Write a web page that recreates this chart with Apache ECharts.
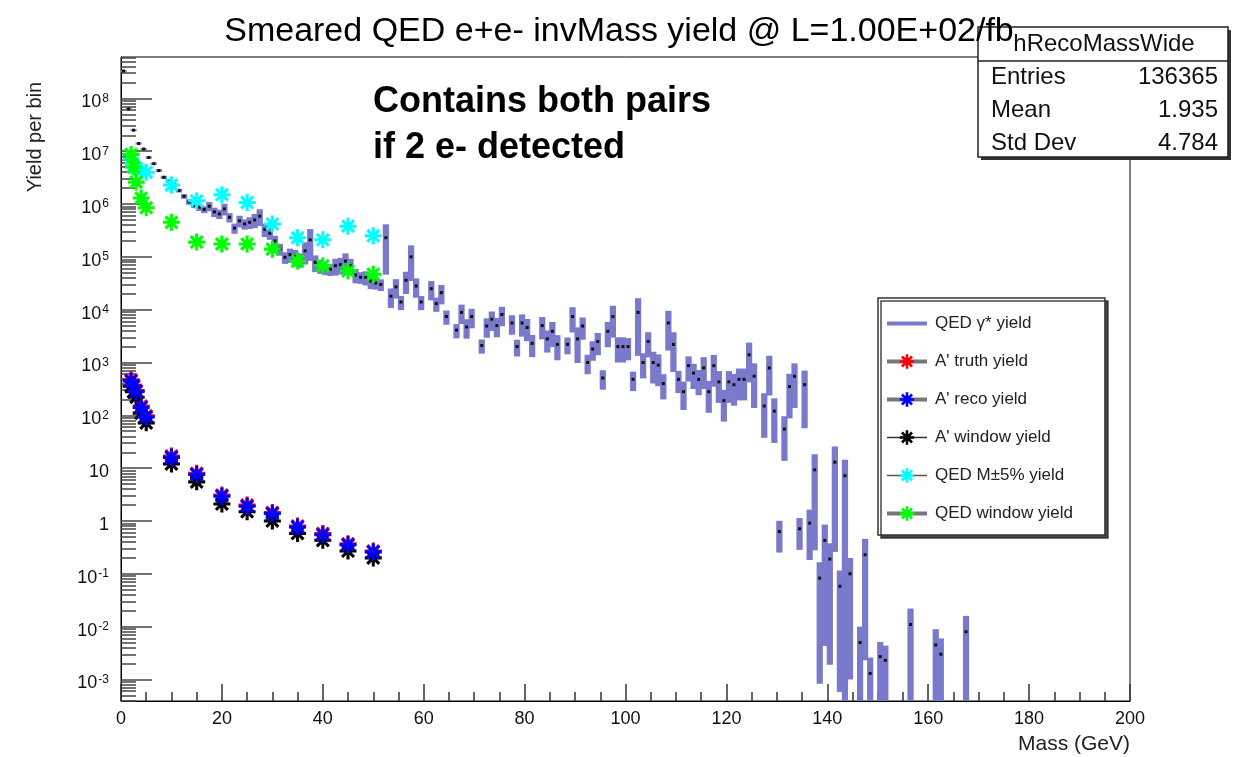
<!DOCTYPE html>
<html>
<head>
<meta charset="utf-8">
<script src="https://cdn.jsdelivr.net/npm/echarts@6/dist/echarts.min.js"></script>
<style>
  html, body { margin: 0; padding: 0; background: #fff; }
  #chart { width: 1244px; height: 757px; }
</style>
</head>
<body>
<div id="chart"></div>
<script>
// ---------------- data ----------------
// QED gamma* yield per 1 GeV bin of reconstructed mass, first bin starts at 0 GeV
const qedBinWidth = 1;
const qedYield = [
  3.3e8, 6.3e7, 2.5e7, 1.4e7, 1.1e7, 7.6e6, 5.8e6, 4.3e6, 3.2e6, 2.7e6,
  2.3e6, 1.8e6, 1.4e6, 1.1e6, 9.5e5, 8.7e5, 7.9e5, 9.1e5, 7.1e5, 6.5e5,
  8.1e5, 5.6e5, 3.5e5, 4.8e5, 4.2e5, 4.5e5, 5.0e5, 5.9e5, 3.3e5, 2.8e5,
  2.0e5, 1.4e5, 9.8e4, 1.1e5, 1.0e5, 8.9e4, 1.3e5, 2.1e5, 7.9e4, 6.8e4,
  6.0e4, 5.8e4, 6.8e4, 7.1e4, 8.3e4, 6.8e4, 4.5e4, 4.1e4, 4.1e4, 3.5e4,
  3.2e4, 3.0e4, 2.3e5, 1.8e4, 2.7e4, 1.4e4, 3.6e4, 1.0e5, 2.8e4, 1.4e4,
  null, 2.5e4, 1.3e4, 2.1e4, 7.4e3, null, 4.1e3, 8.9e3, 4.7e3, 7.4e3,
  null, 2.1e3, 4.9e3, 6.6e3, 5.0e3, 8.1e3, null, 5.6e3, 2.0e3, 5.6e3,
  4.6e3, 2.3e3, null, 5.0e3, 2.8e3, 3.9e3, 2.2e3, null, 2.2e3, 7.4e3,
  2.8e3, 4.9e3, 1.0e3, 1.8e3, 2.5e3, 5.1e2, 3.9e3, 7.4e3, 2.0e3, 2.0e3,
  2.0e3, 4.8e2, 8.9e3, 1.0e3, 2.5e3, 1.0e3, 8.9e2, 4.0e2, 5.6e3, 2.2e3,
  4.8e2, 2.8e2, 8.7e2, 6.3e2, 4.8e2, 7.9e2, 2.8e2, 8.7e2, 4.3e2, 1.9e2,
  4.3e2, 3.8e2, 4.8e2, 4.8e2, 1.4e3, 5.5e2, null, 1.5e2, 7.9e2, 1.2e2,
  0.63, 55, 3.5e2, 5.5e2, 0.71, 3.8e2, 0.91, 9.3, 0.083, 0.43,
  0.19, 13, 0.058, 7.2, 0.1, null, 0.005, 0.23, 0.0013, null,
  0.0027, 0.0023, null, null, null, null, 0.011, null, null, null,
  null, 0.0045, 0.003, null, null, null, null, 0.008, null, null
];
// relative statistical uncertainty of each bin
const qedRelErr = [
  0.02, 0.03, 0.03, 0.04, 0.04, 0.05, 0.05, 0.06, 0.07, 0.07,
  0.08, 0.08, 0.10, 0.12, 0.12, 0.15, 0.15, 0.20, 0.20, 0.20,
  0.25, 0.20, 0.22, 0.25, 0.22, 0.25, 0.30, 0.35, 0.28, 0.25,
  0.25, 0.25, 0.25, 0.30, 0.35, 0.30, 0.45, 0.60, 0.35, 0.30,
  0.25, 0.25, 0.35, 0.35, 0.40, 0.35, 0.30, 0.25, 0.30, 0.30,
  0.25, 0.25, 0.80, 0.40, 0.40, 0.30, 0.45, 0.65, 0.40, 0.30,
  null, 0.40, 0.30, 0.40, 0.30, null, 0.30, 0.40, 0.40, 0.40,
  null, 0.30, 0.40, 0.40, 0.40, 0.40, null, 0.40, 0.35, 0.45,
  0.45, 0.45, null, 0.45, 0.45, 0.50, 0.50, null, 0.35, 0.50,
  0.65, 0.45, 0.40, 0.40, 0.45, 0.40, 0.50, 0.60, 0.50, 0.50,
  0.45, 0.40, 0.85, 0.50, 0.50, 0.60, 0.60, 0.50, 0.70, 0.70,
  0.45, 0.55, 0.50, 0.50, 0.50, 0.60, 0.60, 0.60, 0.60, 0.60,
  0.60, 0.60, 0.60, 0.60, 0.70, 0.75, null, 0.75, 0.70, 0.75,
  0.60, 0.75, 0.75, 0.75, 0.60, 0.85, 0.80, 0.97, 0.99, 0.99,
  0.99, 0.98, 0.99, 1.00, 0.99, null, 1.00, 0.99, 1.00, null,
  0.90, 0.90, null, null, null, null, 1.00, null, null, null,
  null, 0.99, 0.99, null, null, null, null, 1.00, null, null
];

// A' signal mass points (GeV)
const apMass    = [2, 2.5, 3, 4, 5, 10, 15, 20, 25, 30, 35, 40, 45, 50];
const apTruth   = [470, 370, 295, 150, 98, 17, 8.0, 3.1, 2.0, 1.45, 0.80, 0.58, 0.37, 0.27];
const apReco    = [447, 355, 282, 141, 93, 16, 7.6, 2.95, 1.9, 1.38, 0.77, 0.55, 0.355, 0.26];
const apWindow  = [355, 280, 220, 110, 72, 12, 5.5, 2.1, 1.5, 1.0, 0.58, 0.43, 0.27, 0.20];
const qedMass5  = [7.1e6, 5.2e6, 4.8e6, 4.3e6, 4.0e6, 2.3e6, 1.15e6, 1.5e6, 1.07e6, 4.2e5, 2.3e5, 2.1e5, 3.8e5, 2.5e5];
const qedWindow = [8.7e6, 5.0e6, 2.6e6, 1.3e6, 8.5e5, 4.5e5, 1.9e5, 1.75e5, 1.75e5, 1.4e5, 8.3e4, 6.8e4, 5.4e4, 4.7e4];

// axis ticks
const xMajorStep = 20;
const yDecades = [-3, -2, -1, 0, 1, 2, 3, 4, 5, 6, 7, 8];
const yMinorFactors = [2, 3, 4, 5, 6, 7, 8, 9];

// statistics box
const statsTitle = 'hRecoMassWide';
const statsLabels = ['Entries', 'Mean', 'Std Dev'];
const statsValues = ['136365', '1.935', '4.784'];

// ---------------- style ----------------
const FONT = '"Liberation Sans", Arial, Helvetica, sans-serif';
const QED_FILL = '#7a7acc';
const Y_MIN = 3.91e-4;
const Y_MAX = 6.07e8;
const X_MIN = 0, X_MAX = 200;
const STAR = 'path://M41,0L59,0L59,100L41,100Z M0,41L100,41L100,59L0,59Z ' +
             'M8.6,21.4L21.4,8.6L91.4,78.6L78.6,91.4Z M78.6,8.6L91.4,21.4L21.4,91.4L8.6,78.6Z';

const majorY = yDecades.map(n => Math.pow(10, n));
const minorY = [];
yDecades.concat([-4]).forEach(n => yMinorFactors.forEach(f => {
  const v = f * Math.pow(10, n);
  if (v > Y_MIN && v < Y_MAX) minorY.push(v);
}));

const histData = [];
qedYield.forEach((v, i) => {
  if (v == null) return;
  const lo = i * qedBinWidth;
  histData.push([lo, lo + qedBinWidth, v, v * qedRelErr[i]]);
});

// error box per bin plus a small marker at the bin content
function renderHist(params, api) {
  const lo = api.value(0), hi = api.value(1), v = api.value(2), err = api.value(3);
  const top = Math.min(v + err, Y_MAX);
  const bot = Math.max(v - err, Y_MIN);
  if (top <= Y_MIN) return null;
  const pTop = api.coord([lo, top]);
  const pBot = api.coord([hi, bot]);
  const h = pBot[1] - pTop[1];
  const boxH = Math.max(h, 2);
  const children = [{
    type: 'rect',
    shape: { x: pTop[0] - 0.6, y: pTop[1] - (boxH - h) / 2, width: pBot[0] - pTop[0] + 1.2, height: boxH },
    style: { fill: QED_FILL }
  }];
  if (v > Y_MIN) {
    const c = api.coord([(lo + hi) / 2, v]);
    children.push({
      type: 'rect',
      shape: { x: c[0] - 1.5, y: c[1] - 1.5, width: 3, height: 3 },
      style: { fill: '#111' }
    });
  }
  return { type: 'group', children };
}

function starSeries(name, values, color, z) {
  return {
    type: 'line',
    name,
    data: apMass.map((m, i) => [m, values[i]]),
    symbol: STAR,
    symbolSize: 17,
    showSymbol: true,
    showAllSymbol: true,
    lineStyle: { width: 0 },
    itemStyle: { color },
    emphasis: { disabled: true },
    z
  };
}

function yLabel(v) {
  const n = Math.round(Math.log10(v));
  if (n === 0) return '{b|1}';
  if (n === 1) return '{b|10}';
  return '{b|10}{s|' + n + '}';
}

const chart = echarts.init(document.getElementById('chart'), null, { renderer: 'canvas' });

chart.setOption({
  animation: false,
  backgroundColor: '#fff',
  title: {
    text: 'Smeared QED e+e- invMass yield @ L=1.00E+02/fb',
    left: 614,
    top: 10,
    textAlign: 'center',
    textStyle: { fontFamily: FONT, fontSize: 34, fontWeight: 'normal', color: '#000' },
    z: 20
  },
  grid: {
    left: 121, right: 114, top: 57, bottom: 56,
    show: true, borderColor: '#000', borderWidth: 1, backgroundColor: 'transparent'
  },
  xAxis: {
    type: 'value',
    min: X_MIN, max: X_MAX, interval: xMajorStep,
    axisLine: { show: true, onZero: false, lineStyle: { color: '#000', width: 1 } },
    axisTick: { show: true, inside: true, length: 17, lineStyle: { color: '#333', width: 1.5 } },
    minorTick: { show: true, splitNumber: 4, length: 9, lineStyle: { color: '#333', width: 1.5 } },
    splitLine: { show: false },
    axisLabel: { fontFamily: FONT, fontSize: 18, color: '#111', margin: 9 }
  },
  yAxis: [{
    type: 'log', logBase: 10,
    min: Y_MIN, max: Y_MAX,
    position: 'left',
    axisLine: { show: true, lineStyle: { color: '#000', width: 1 } },
    axisTick: { show: true, inside: true, length: 31, customValues: majorY, lineStyle: { color: '#444', width: 1.5 } },
    splitLine: { show: false },
    axisLabel: {
      customValues: majorY,
      formatter: yLabel,
      margin: 12,
      padding: [8, 0, 0, 0],
      rich: {
        b: { fontFamily: FONT, fontSize: 18, color: '#111', lineHeight: 20, verticalAlign: 'middle' },
        s: { fontFamily: FONT, fontSize: 12, color: '#111', lineHeight: 12, verticalAlign: 'top', padding: [0, 0, 0, 1] }
      }
    }
  }, {
    type: 'log', logBase: 10,
    min: Y_MIN, max: Y_MAX,
    position: 'left',
    offset: 0,
    axisLine: { show: false },
    axisTick: { show: true, inside: true, length: 15, customValues: minorY, lineStyle: { color: '#444', width: 1.5 } },
    axisLabel: { show: false },
    splitLine: { show: false }
  }],
  legend: {
    orient: 'vertical',
    left: 878, top: 298,
    itemWidth: 40, itemHeight: 18, itemGap: 21,
    padding: [17, 32, 13, 7],
    backgroundColor: '#fff',
    borderColor: '#333', borderWidth: 1.5,
    shadowColor: 'rgba(40,40,40,0.85)', shadowOffsetX: 3, shadowOffsetY: 3, shadowBlur: 0,
    selectedMode: false,
    textStyle: { fontFamily: FONT, fontSize: 17, color: '#222', padding: [0, 0, 0, 3] },
    data: [
      { name: 'QED \u03b3* yield', icon: 'path://M0,0L100,0L100,10L0,10Z', itemStyle: { color: QED_FILL } },
      { name: "A' truth yield", lineStyle: { color: '#777', width: 4, opacity: 1 } },
      { name: "A' reco yield", lineStyle: { color: '#777', width: 4, opacity: 1 } },
      { name: "A' window yield", lineStyle: { color: '#333', width: 1.5, opacity: 1 } },
      { name: 'QED M\u00b15% yield', lineStyle: { color: '#555', width: 1.5, opacity: 1 } },
      { name: 'QED window yield', lineStyle: { color: '#777', width: 4, opacity: 1 } }
    ]
  },
  series: [
    {
      type: 'custom',
      name: 'QED \u03b3* yield',
      renderItem: renderHist,
      data: histData,
      encode: { x: [0, 1], y: [2] },
      itemStyle: { color: QED_FILL },
      clip: true,
      z: 2
    },
    starSeries("A' truth yield", apTruth, '#ff0000', 3),
    starSeries("A' window yield", apWindow, '#000000', 3),
    starSeries("A' reco yield", apReco, '#0000ff', 4),
    starSeries('QED M\u00b15% yield', qedMass5, '#00ffff', 4),
    starSeries('QED window yield', qedWindow, '#00ff00', 5)
  ],
  graphic: [
    // statistics box
    { type: 'rect', z: 10, shape: { x: 981, y: 30, width: 250, height: 130 }, style: { fill: '#333' } },
    { type: 'rect', z: 11, shape: { x: 978, y: 27, width: 250, height: 130 }, style: { fill: '#fff', stroke: '#222', lineWidth: 1.5 } },
    { type: 'line', z: 12, shape: { x1: 978, y1: 61, x2: 1228, y2: 61 }, style: { stroke: '#222', lineWidth: 1.5 } },
    { type: 'text', z: 12, x: 1104, y: 44, style: { text: statsTitle, font: '24px ' + FONT, fill: '#111', textAlign: 'center', textVerticalAlign: 'middle' } },
    ...statsLabels.map((t, i) => ({
      type: 'text', z: 12, x: 991, y: 77 + i * 33,
      style: { text: t, font: '24px ' + FONT, fill: '#111', textAlign: 'left', textVerticalAlign: 'middle' }
    })),
    ...statsValues.map((t, i) => ({
      type: 'text', z: 12, x: 1218, y: 77 + i * 33,
      style: { text: t, font: '24px ' + FONT, fill: '#111', textAlign: 'right', textVerticalAlign: 'middle' }
    })),
    // annotation
    { type: 'text', z: 12, x: 373, y: 102, style: { text: 'Contains both pairs', font: 'bold 36px ' + FONT, fill: '#000', textVerticalAlign: 'middle' } },
    { type: 'text', z: 12, x: 373, y: 148, style: { text: 'if 2 e- detected', font: 'bold 36px ' + FONT, fill: '#000', textVerticalAlign: 'middle' } },
    // axis titles
    { type: 'text', z: 12, x: 35, y: 137, rotation: Math.PI / 2, style: { text: 'Yield per bin', font: '20px ' + FONT, fill: '#222', textAlign: 'center', textVerticalAlign: 'middle' } },
    { type: 'text', z: 12, x: 1130, y: 744, style: { text: 'Mass (GeV)', font: '21px ' + FONT, fill: '#222', textAlign: 'right', textVerticalAlign: 'middle' } }
  ]
});
</script>
</body>
</html>
